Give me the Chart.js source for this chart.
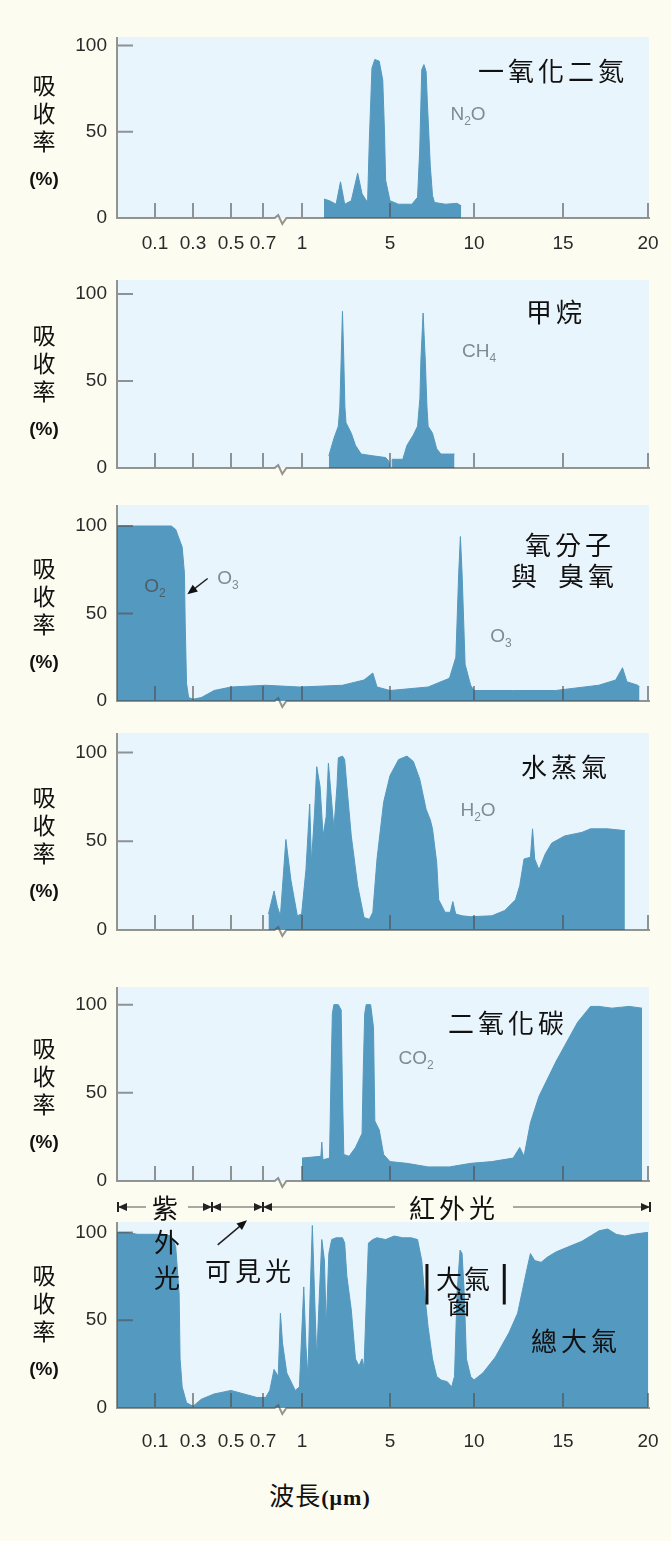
<!DOCTYPE html>
<html lang="zh-Hant">
<head>
<meta charset="utf-8">
<title>大氣吸收率</title>
<script src="https://cdn.jsdelivr.net/npm/chart.js@4.4.1/dist/chart.umd.min.js"></script>
<style>
  html, body { margin: 0; padding: 0; }
  body { width: 671px; height: 1541px; background: #fcfcf1; position: relative; overflow: hidden;
         font-family: "Noto Sans CJK TC", sans-serif; }
  canvas { position: absolute; left: 0; z-index: 1; }
  .t { position: absolute; z-index: 2; transform: translate(-50%, -50%); white-space: nowrap; line-height: 1; color: #111; }
  .title { font-size: 26px; letter-spacing: 4px; }
  .mol { font-family: "Liberation Sans", Arial, sans-serif; font-size: 19px; color: #808a92; }
  .mol sub { font-size: 12px; vertical-align: -5px; }
  .dark { color: #4f5d67; }
  .ylab { font-size: 23px; }
  .pct { font-family: "Liberation Sans", Arial, sans-serif; font-weight: bold; font-size: 19px; }
  .band { font-size: 26px; letter-spacing: 4px; background: #fcfcf1; padding: 0 8px; }
</style>
</head>
<body>

<!-- 標題 -->
<div class="t title" style="left:553px; top:70px">一氧化二氮</div>
<div class="t title" style="left:556px; top:311px">甲烷</div>
<div class="t title" style="left:570px; top:544px">氧分子</div>
<div class="t title" style="left:526px; top:575px">與</div>
<div class="t title" style="left:588px; top:575px">臭氧</div>
<div class="t title" style="left:566px; top:766px">水蒸氣</div>
<div class="t title" style="left:508px; top:1022px">二氧化碳</div>
<div class="t title" style="left:576px; top:1340px">總大氣</div>

<!-- 分子式 -->
<div class="t mol" style="left:468px; top:115px">N<sub>2</sub>O</div>
<div class="t mol" style="left:479px; top:352px">CH<sub>4</sub></div>
<div class="t mol dark" style="left:155px; top:587px">O<sub>2</sub></div>
<div class="t mol" style="left:228px; top:579px">O<sub>3</sub></div>
<div class="t mol" style="left:501px; top:637px">O<sub>3</sub></div>
<div class="t mol" style="left:478px; top:811px">H<sub>2</sub>O</div>
<div class="t mol" style="left:416px; top:1059px">CO<sub>2</sub></div>

<div id="charts"></div>

<!-- 光譜區 -->
<div class="t band" style="left:167px; top:1207px; padding:0 6px">紫</div>
<div class="t title" style="left:167px; top:1241px; letter-spacing:0">外</div>
<div class="t title" style="left:167px; top:1277px; letter-spacing:0">光</div>
<div class="t title" style="left:250px; top:1270px">可見光</div>
<div class="t band" style="left:454px; top:1207px; padding:0 14px">紅外光</div>
<div class="t title" style="left:464px; top:1278px; letter-spacing:2px">大氣</div>
<div class="t title" style="left:459px; top:1303px; letter-spacing:0">窗</div>

<div class="t" style="left:320px; top:1495px; font-size:25px; letter-spacing:1px">波長<span style="font-family:'Liberation Serif',serif; font-weight:bold; font-size:22px">(μm)</span></div>

<script>
// 波長刻度 (µm)
const TICK_WL = [0.1, 0.3, 0.5, 0.7, 1, 5, 10, 15, 20];
const TICK_LABELS = ['0.1', '0.3', '0.5', '0.7', '1', '5', '10', '15', '20'];
const Y_TICKS = [0, 50, 100];

// 斷軸: 波長 -> 軸上位置
const AXIS_WL  = [0, 0.1, 0.3, 0.5, 0.7, 1, 5, 10, 15, 20];
const AXIS_POS = [0, 38, 76, 114, 146, 185, 273, 357, 446, 531];
const AXIS_LEN = 532;
const BREAK_WL = [0.79, 0.88];

// 吸收率 (%) : [波長 µm, 吸收率]
const n2o = [[2.0,11],[2.25,10],[2.55,8],[2.75,21],[2.94,8],[3.24,10],[3.53,26],[3.73,14],[3.98,9],
  [4.06,45],[4.18,87],[4.31,92],[4.51,91],[4.67,80],[4.75,50],[4.80,22],[5.0,10],[5.5,8],[6.3,8],
  [6.64,12],[6.77,40],[6.89,86],[7.02,89],[7.15,85],[7.22,68],[7.40,30],[7.53,13],[7.65,9],[8.3,8],
  [9.0,8.5],[9.24,7]];

const ch4 = [[2.22,7],[2.45,17],[2.65,24],[2.72,35],[2.78,62],[2.84,90],[2.90,62],[2.95,35],[3.0,26],
  [3.24,20],[3.43,13],[3.69,8],[4.22,7],[4.8,6],[4.94,4],[5.0,0],[5.13,0],[5.13,5],[5.76,5],[6.01,13],
  [6.39,19],[6.64,24],[6.78,40],[6.84,62],[6.97,89],[7.10,62],[7.2,35],[7.27,24],[7.53,20],[7.78,11],
  [8.03,8],[8.84,8]];

const o2o3 = [[0,100],[0.186,100],[0.209,98],[0.243,88],[0.255,73],[0.259,44],[0.266,10],[0.277,2],
  [0.3,1],[0.344,2],[0.411,6],[0.5,8],[0.72,9],[0.98,8],[2.84,9],[3.82,12],[4.22,16],[4.41,8],[5.0,6],
  [7.27,8],[8.54,13],[8.92,25],[9.09,73],[9.19,94],[9.29,73],[9.47,21],[9.8,9],[10,6],[12.16,6],
  [14.57,6],[17.1,9],[18.1,12],[18.5,19],[18.76,11],[19.4,9],[19.5,8]];

const h2o = [[0.742,9],[0.785,22],[0.811,13],[0.834,8],[0.876,51],[0.915,28],[0.964,8],[0.997,9],
  [1.18,34],[1.35,71],[1.43,38],[1.57,66],[1.67,92],[1.82,81],[1.96,53],[2.10,64],[2.20,94],[2.29,81],
  [2.45,57],[2.59,81],[2.65,97],[2.84,98],[2.94,96],[3.04,81],[3.24,53],[3.53,25],[3.82,7],[4.06,6],
  [4.22,10],[4.41,40],[4.71,72],[5.0,87],[5.51,96],[6.01,98],[6.39,95],[6.77,85],[7.15,68],[7.40,62],
  [7.53,57],[7.78,38],[7.9,17],[8.28,10],[8.59,10],[8.74,16],[8.91,9],[9.29,8],[9.8,7.5],[11.0,8],
  [11.73,11],[12.33,17],[12.57,25],[12.81,40],[13.17,41],[13.29,57],[13.41,40],[13.65,34],[14.01,43],
  [14.37,49],[15.1,53],[16.11,55],[16.62,57],[17.63,57],[18.64,56]];

const co2 = [[1.0,13],[1.86,14],[1.90,22],[1.95,12],[2.25,13],[2.32,60],[2.38,95],[2.45,100],[2.65,100],
  [2.78,97],[2.84,50],[2.90,15],[3.14,14],[3.43,19],[3.73,27],[3.78,60],[3.85,95],[3.92,100],[4.12,100],
  [4.25,87],[4.31,34],[4.51,29],[4.71,15],[5.0,11],[6.01,10],[7.27,8],[8.54,8],[9.8,10],[11.0,11],
  [12.2,13],[12.57,19],[12.81,14],[13.17,33],[13.65,48],[14.62,68],[15.86,90],[16.62,99],[17.12,99],
  [17.88,98],[18.89,99],[19.65,98]];

const total = [[0,100],[0.03,100],[0.053,99],[0.141,99],[0.186,98],[0.209,92],[0.227,65],[0.232,28],
  [0.243,12],[0.266,3],[0.3,1],[0.344,5],[0.411,8],[0.456,9],[0.5,10],[0.581,8],[0.662,6],[0.72,6],
  [0.752,10],[0.785,22],[0.817,18],[0.834,54],[0.85,37],[0.883,20],[0.948,10],[0.98,12],[1.08,69],
  [1.18,35],[1.27,18],[1.37,65],[1.47,104],[1.57,65],[1.67,28],[1.76,56],[1.90,96],[2.02,84],[2.10,46],
  [2.22,88],[2.35,96],[2.55,97],[2.84,97],[2.94,94],[3.04,75],[3.24,56],[3.43,28],[3.59,24],[3.73,28],
  [3.82,23],[3.92,60],[4.02,94],[4.22,96],[4.41,97],[4.8,96],[5.25,98],[5.76,97],[6.26,97],[6.64,96],
  [6.89,84],[7.02,69],[7.27,46],[7.53,28],[7.78,18],[8.03,16],[8.41,15],[8.67,12],[8.84,18],[8.99,65],
  [9.17,90],[9.29,88],[9.42,65],[9.55,28],[9.8,18],[10,16],[10.5,20],[11.2,29],[11.97,43],[12.45,54],
  [12.93,77],[13.17,88],[13.41,84],[13.77,83],[14.13,86],[14.62,89],[15.35,92],[16.11,95],[16.62,98],
  [17.12,101],[17.63,102],[18.13,99],[18.64,98],[19.14,99],[19.9,100],[20,100]];

// 光譜區分界 (µm)、大氣窗
const BAND_WL = [0, 0.4, 0.7, 20];
const WINDOW_WL = [7.2, 11.7];

// 版面
const PANEL_TOP  = [37, 280, 505, 733, 987, 1222];
const PANEL_BASE = [218, 468, 701, 930, 1181, 1408];
const PANEL_YMAX = [105, 108, 112, 111, 110, 106];
const FILL = '#5499bf';
const PLOT_BG = '#e9f5fc';
const AXIS_COLOR = 'rgba(80,80,80,0.6)';

function toPos(w) {
  let i = 1;
  while (i < AXIS_WL.length - 1 && w > AXIS_WL[i]) i++;
  const w0 = AXIS_WL[i - 1], w1 = AXIS_WL[i];
  return AXIS_POS[i - 1] + (w - w0) / (w1 - w0) * (AXIS_POS[i] - AXIS_POS[i - 1]);
}
function fromPos(p) {
  let i = 1;
  while (i < AXIS_POS.length - 1 && p > AXIS_POS[i]) i++;
  const p0 = AXIS_POS[i - 1], p1 = AXIS_POS[i];
  return AXIS_WL[i - 1] + (p - p0) / (p1 - p0) * (AXIS_WL[i] - AXIS_WL[i - 1]);
}

class BrokenAxis extends Chart.LinearScale {
  getPixelForValue(v) { return this.getPixelForDecimal(toPos(v) / AXIS_LEN); }
  getValueForPixel(px) { return fromPos(this.getDecimalForPixel(px) * AXIS_LEN); }
}
BrokenAxis.id = 'brokenAxis';
BrokenAxis.defaults = {};
Chart.register(BrokenAxis);

function arrowHead(ctx, x, y, dir) {
  ctx.beginPath();
  ctx.moveTo(x, y);
  ctx.lineTo(x - dir * 9, y - 4);
  ctx.lineTo(x - dir * 9, y + 4);
  ctx.closePath();
  ctx.fill();
}

const axisDecor = {
  id: 'axisDecor',
  beforeDraw(chart) {
    const {ctx, chartArea: a} = chart;
    ctx.save();
    ctx.fillStyle = PLOT_BG;
    ctx.fillRect(a.left, a.top, a.right - a.left, a.bottom - a.top);
    ctx.restore();
  },
  afterDatasetsDraw(chart) {
    const {ctx, chartArea: a, scales: {x, y}} = chart;
    const base = y.getPixelForValue(0);
    const b0 = x.getPixelForValue(BREAK_WL[0]), b1 = x.getPixelForValue(BREAK_WL[1]);
    ctx.save();
    ctx.strokeStyle = AXIS_COLOR;
    ctx.lineWidth = 2;
    ctx.beginPath();
    ctx.moveTo(a.left, a.top);
    ctx.lineTo(a.left, base);
    ctx.lineTo(b0, base);
    ctx.lineTo(b0 + (b1 - b0) * 0.3, base - 3);
    ctx.lineTo(b0 + (b1 - b0) * 0.65, base + 6);
    ctx.lineTo(b1, base);
    ctx.lineTo(a.right + 1, base);
    Y_TICKS.forEach(v => {
      if (v === 0) return;
      const py = y.getPixelForValue(v);
      ctx.moveTo(a.left, py);
      ctx.lineTo(a.left + 16, py);
    });
    TICK_WL.forEach(w => {
      const px = x.getPixelForValue(w);
      ctx.moveTo(px, base);
      ctx.lineTo(px, base - 15);
    });
    ctx.stroke();

    // 註解箭頭
    (chart.options.plugins.axisDecor.arrows || []).forEach(ar => {
      const x0 = x.getPixelForValue(ar[0][0]), y0 = y.getPixelForValue(ar[0][1]);
      const x1 = x.getPixelForValue(ar[1][0]), y1 = y.getPixelForValue(ar[1][1]);
      const ang = Math.atan2(y1 - y0, x1 - x0);
      ctx.strokeStyle = '#222';
      ctx.fillStyle = '#111';
      ctx.lineWidth = 1.5;
      ctx.beginPath();
      ctx.moveTo(x0, y0);
      ctx.lineTo(x1 - Math.cos(ang) * 6, y1 - Math.sin(ang) * 6);
      ctx.stroke();
      ctx.beginPath();
      ctx.moveTo(x1, y1);
      ctx.lineTo(x1 - Math.cos(ang - 0.4) * 11, y1 - Math.sin(ang - 0.4) * 11);
      ctx.lineTo(x1 - Math.cos(ang + 0.4) * 11, y1 - Math.sin(ang + 0.4) * 11);
      ctx.closePath();
      ctx.fill();
    });

    // 光譜區與大氣窗 (總大氣)
    if (chart.options.plugins.axisDecor.bands) {
      const ry = a.top - 15;
      const xs = BAND_WL.map(w => x.getPixelForValue(w));
      xs[0] = a.left + 1;
      xs[xs.length - 1] = a.right + 1;
      ctx.strokeStyle = '#a9a9a2';
      ctx.lineWidth = 2;
      ctx.beginPath();
      ctx.moveTo(xs[0], ry);
      ctx.lineTo(xs[xs.length - 1], ry);
      ctx.stroke();
      ctx.fillStyle = '#222';
      ctx.strokeStyle = '#222';
      xs.forEach((px, i) => {
        if (i > 0) arrowHead(ctx, px, ry, 1);
        if (i < xs.length - 1) arrowHead(ctx, px, ry, -1);
        ctx.beginPath();
        ctx.moveTo(px, ry - 5);
        ctx.lineTo(px, ry + 5);
        ctx.stroke();
      });
      ctx.strokeStyle = '#111';
      ctx.lineWidth = 3;
      ctx.beginPath();
      WINDOW_WL.forEach(w => {
        const px = x.getPixelForValue(w);
        ctx.moveTo(px, y.getPixelForValue(82));
        ctx.lineTo(px, y.getPixelForValue(59));
      });
      ctx.stroke();
    }
    ctx.restore();
  }
};

const PANELS = [
  { series: n2o, labels: true, xh: 40, xpad: 14, topPad: 0 },
  { series: ch4, labels: false, xh: 12, xpad: 0, topPad: 0 },
  { series: o2o3, labels: false, xh: 12, xpad: 0, topPad: 0, arrows: [[[0.377, 70], [0.27, 61]]] },
  { series: h2o, labels: false, xh: 12, xpad: 0, topPad: 0 },
  { series: co2, labels: false, xh: 12, xpad: 0, topPad: 0 },
  { series: total, labels: true, xh: 45, xpad: 22, topPad: 32, bands: true, arrows: [[[0.43, 93], [0.6, 107]]] }
];

const holder = document.getElementById('charts');

PANELS.forEach((p, i) => {
  const top = PANEL_TOP[i], base = PANEL_BASE[i];
  const cv = document.createElement('canvas');
  cv.width = 671;
  cv.height = base - top + p.xh + p.topPad;
  cv.style.top = (top - p.topPad) + 'px';
  holder.appendChild(cv);

  // 吸收率 (%)
  ['吸', '收', '率'].forEach((ch, k) => {
    const d = document.createElement('div');
    d.className = 't ylab';
    d.textContent = ch;
    d.style.left = '44px';
    d.style.top = (base - 134 + k * 28) + 'px';
    document.body.appendChild(d);
  });
  const pc = document.createElement('div');
  pc.className = 't pct';
  pc.textContent = '(%)';
  pc.style.left = '44px';
  pc.style.top = (base - 40) + 'px';
  document.body.appendChild(pc);

  new Chart(cv, {
    type: 'line',
    data: {
      datasets: [{
        data: p.series,
        fill: 'origin',
        backgroundColor: FILL,
        borderColor: FILL,
        borderWidth: 1,
        pointRadius: 0,
        tension: 0
      }]
    },
    options: {
      responsive: false,
      animation: false,
      devicePixelRatio: 1,
      events: [],
      layout: { padding: { left: 0, right: 22, top: p.topPad, bottom: 0 } },
      plugins: {
        legend: { display: false },
        tooltip: { enabled: false },
        axisDecor: { arrows: p.arrows, bands: p.bands }
      },
      scales: {
        x: {
          type: 'brokenAxis',
          min: 0,
          max: 20,
          border: { display: false },
          grid: { display: false, drawTicks: false },
          ticks: {
            display: p.labels,
            autoSkip: false,
            maxRotation: 0,
            minRotation: 0,
            padding: p.xpad,
            color: '#2a2a2a',
            font: { family: 'Liberation Sans', size: 19 },
            callback: (v, k) => TICK_LABELS[k]
          },
          afterBuildTicks: s => { s.ticks = TICK_WL.map(v => ({ value: v })); },
          afterFit: s => { s.height = p.xh; s.paddingLeft = 0; s.paddingRight = 0; }
        },
        y: {
          min: 0,
          max: PANEL_YMAX[i],
          border: { display: false },
          grid: { display: false, drawTicks: false },
          ticks: {
            padding: 10,
            color: '#2a2a2a',
            font: { family: 'Liberation Sans', size: 19 },
            callback: v => String(v)
          },
          afterBuildTicks: s => { s.ticks = Y_TICKS.map(v => ({ value: v })); },
          afterFit: s => { s.width = 117; s.paddingTop = 0; s.paddingBottom = 0; }
        }
      }
    },
    plugins: [axisDecor]
  });
});
</script>
</body>
</html>
